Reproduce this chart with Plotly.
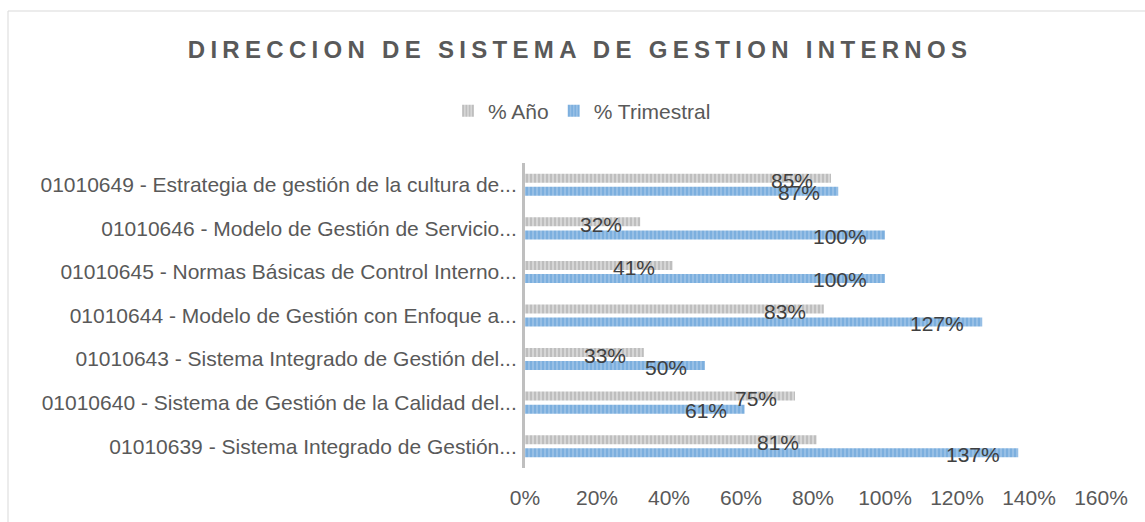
import plotly.graph_objects as go

categories = [
    "01010649 - Estrategia de gestión de la cultura de...",
    "01010646 - Modelo de Gestión de Servicio...",
    "01010645 - Normas Básicas de Control Interno...",
    "01010644 - Modelo de Gestión con Enfoque a...",
    "01010643 - Sistema Integrado de Gestión del...",
    "01010640 - Sistema de Gestión de la Calidad del...",
    "01010639 - Sistema Integrado de Gestión...",
]
pct_anio = [0.85, 0.32, 0.41, 0.83, 0.33, 0.75, 0.81]
pct_trimestral = [0.87, 1.00, 1.00, 1.27, 0.50, 0.61, 1.37]
series_names = ["% Año", "% Trimestral"]
x_ticks = [0, 0.2, 0.4, 0.6, 0.8, 1.0, 1.2, 1.4, 1.6]

W, H = 1145, 522
L, R, T, B = 525, 44, 163, 54
FONT = "Liberation Sans"

fig = go.Figure()
fig.add_trace(go.Bar(
    y=categories, x=pct_anio, name=series_names[0], orientation="h",
    marker=dict(color="#d6d6d6", line=dict(width=0),
                pattern=dict(shape="|", fillmode="overlay", fgcolor="#a5a5a5",
                             size=4, solidity=0.5)),
    hoverinfo="x+name",
))
fig.add_trace(go.Bar(
    y=categories, x=pct_trimestral, name=series_names[1], orientation="h",
    marker=dict(color="#9dc3e6", line=dict(width=0),
                pattern=dict(shape="|", fillmode="overlay", fgcolor="#5b9bd5",
                             size=4, solidity=0.6)),
    hoverinfo="x+name",
))

annotations = []
for vals, ysh in ((pct_anio, 4), (pct_trimestral, -8)):
    for c, v in zip(categories, vals):
        annotations.append(dict(
            x=v, y=c, xref="x", yref="y", text=f"{round(v*100)}%",
            showarrow=False, xanchor="right", yanchor="middle",
            xshift=-16, yshift=ysh,
            font=dict(family=FONT, size=21, color="#404040"),
        ))

plot_w = W - L - R
plot_h = H - T - B
fig.update_layout(
    width=W, height=H,
    margin=dict(l=L, r=R, t=T, b=B, autoexpand=False),
    paper_bgcolor="white", plot_bgcolor="white",
    barmode="group", bargap=0.40, bargroupgap=0.31,
    title=dict(
        text='<span style="letter-spacing:5.3px">DIRECCION DE SISTEMA DE GESTION INTERNOS</span>',
        x=580 / W, xref="container", xanchor="center",
        y=1 - 50 / H, yref="container", yanchor="middle",
        font=dict(family=FONT, size=24, color="#595959", weight="bold"),
    ),
    legend=dict(
        orientation="h", xref="container", yref="container",
        x=582 / W, xanchor="center", y=1 - 111 / H, yanchor="middle",
        font=dict(family=FONT, size=21, color="#595959"),
        itemwidth=30, bgcolor="rgba(0,0,0,0)",
    ),
    xaxis=dict(
        range=[0, 1.6], tickvals=x_ticks, tickformat=".0%",
        showgrid=False, zeroline=False, showline=False,
        ticks="", ticklabelstandoff=15,
        tickfont=dict(family=FONT, size=21, color="#595959"),
        fixedrange=True,
    ),
    yaxis=dict(
        autorange="reversed", type="category",
        showgrid=False, zeroline=False,
        showline=True, linecolor="#bfbfbf", linewidth=3,
        ticks="", ticklabelstandoff=1,
        tickfont=dict(family=FONT, size=21, color="#595959"),
        automargin=False, fixedrange=True,
    ),
    annotations=annotations,
    shapes=[dict(
        type="rect", xref="paper", yref="paper", layer="below",
        x0=(8 - L) / plot_w, x1=(W + 10 - L) / plot_w,
        y0=(H - B - (H + 10)) / plot_h, y1=(H - B - 11) / plot_h,
        line=dict(color="#d9d9d9", width=1), fillcolor="rgba(0,0,0,0)",
    )],
)

fig.write_html("out.html", config={"displayModeBar": False},
               post_script="document.body.style.margin='0';")
